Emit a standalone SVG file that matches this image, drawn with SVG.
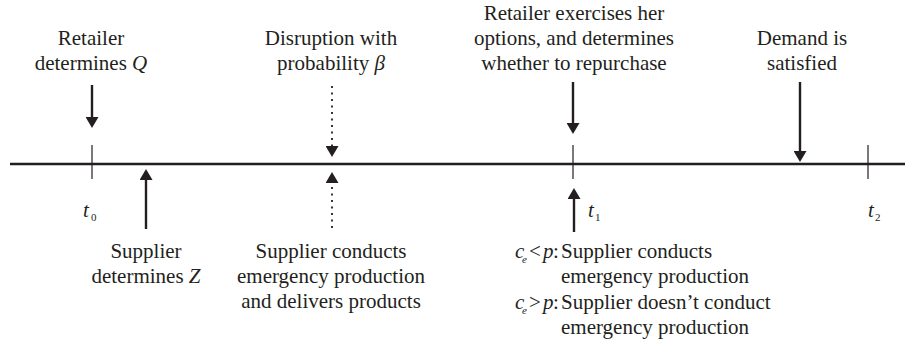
<svg xmlns="http://www.w3.org/2000/svg" width="905" height="347" viewBox="0 0 905 347">
<defs>
<marker id="ah" viewBox="0 0 12 13" refX="1" refY="6.5" markerWidth="12" markerHeight="13" markerUnits="userSpaceOnUse" orient="auto">
<path d="M0,0 L11,6.5 L0,13 z" fill="#231f20"/>
</marker>
</defs>
<rect width="905" height="347" fill="#ffffff"/>
<g id="timeline">
<line x1="10" y1="164" x2="905" y2="164" stroke="#231f20" stroke-width="2.5"/>
<line x1="92" y1="145" x2="92" y2="179" stroke="#231f20" stroke-width="1.2"/>
<line x1="573" y1="145" x2="573" y2="179" stroke="#231f20" stroke-width="1.2"/>
<line x1="868" y1="145" x2="868" y2="179" stroke="#231f20" stroke-width="1.2"/>
</g>
<g id="connectors">
<line x1="92" y1="85" x2="92" y2="118" stroke="#231f20" stroke-width="2.4" marker-end="url(#ah)"/>
<line x1="146" y1="229" x2="146" y2="179" stroke="#231f20" stroke-width="2.4" marker-end="url(#ah)"/>
<line x1="332" y1="86" x2="332" y2="147" stroke="#231f20" stroke-width="1.8" stroke-dasharray="2 4.5" marker-end="url(#ah)"/>
<line x1="332" y1="228" x2="332" y2="182" stroke="#231f20" stroke-width="1.8" stroke-dasharray="2 4.5" marker-end="url(#ah)"/>
<line x1="573" y1="82" x2="573" y2="124" stroke="#231f20" stroke-width="2.4" marker-end="url(#ah)"/>
<line x1="800" y1="82" x2="800" y2="152" stroke="#231f20" stroke-width="2.4" marker-end="url(#ah)"/>
<line x1="574" y1="232" x2="574" y2="198" stroke="#231f20" stroke-width="2.4" marker-end="url(#ah)"/>
</g>
<g id="t0"><text font-family="Times New Roman" font-size="21" fill="#231f20" x="83" y="217"><tspan font-style="italic">t</tspan><tspan font-size="11" x="91" y="221">0</tspan></text></g>
<g id="t1"><text font-family="Times New Roman" font-size="21" fill="#231f20" x="588" y="217"><tspan font-style="italic">t</tspan><tspan font-size="11" x="595" y="221">1</tspan></text></g>
<g id="t2"><text font-family="Times New Roman" font-size="21" fill="#231f20" x="868" y="217"><tspan font-style="italic">t</tspan><tspan font-size="11" x="875" y="221">2</tspan></text></g>
<g id="retailer-q">
<text font-family="Times New Roman" font-size="21" fill="#231f20" text-anchor="middle" x="91" y="45">Retailer</text>
<text font-family="Times New Roman" font-size="21" fill="#231f20" text-anchor="middle" x="91" y="70">determines <tspan font-style="italic">Q</tspan></text>
</g>
<g id="disruption">
<text font-family="Times New Roman" font-size="21" fill="#231f20" text-anchor="middle" x="331" y="45">Disruption with</text>
<text font-family="Times New Roman" font-size="21" fill="#231f20" text-anchor="middle" x="331" y="70">probability <tspan font-style="italic">β</tspan></text>
</g>
<g id="retailer-options">
<text font-family="Times New Roman" font-size="21" fill="#231f20" text-anchor="middle" x="574" y="20">Retailer exercises her</text>
<text font-family="Times New Roman" font-size="21" fill="#231f20" text-anchor="middle" x="574" y="45">options, and determines</text>
<text font-family="Times New Roman" font-size="21" fill="#231f20" text-anchor="middle" x="574" y="70">whether to repurchase</text>
</g>
<g id="demand">
<text font-family="Times New Roman" font-size="21" fill="#231f20" text-anchor="middle" x="802" y="45">Demand is</text>
<text font-family="Times New Roman" font-size="21" fill="#231f20" text-anchor="middle" x="802" y="70">satisfied</text>
</g>
<g id="supplier-z">
<text font-family="Times New Roman" font-size="21" fill="#231f20" text-anchor="middle" x="146" y="258">Supplier</text>
<text font-family="Times New Roman" font-size="21" fill="#231f20" text-anchor="middle" x="146" y="283">determines <tspan font-style="italic">Z</tspan></text>
</g>
<g id="supplier-emergency">
<text font-family="Times New Roman" font-size="21" fill="#231f20" text-anchor="middle" x="331" y="258">Supplier conducts</text>
<text font-family="Times New Roman" font-size="21" fill="#231f20" text-anchor="middle" x="331" y="283">emergency production</text>
<text font-family="Times New Roman" font-size="21" fill="#231f20" text-anchor="middle" x="331" y="308">and delivers products</text>
</g>
<g id="conditions">
<text font-family="Times New Roman" font-size="21" fill="#231f20" x="515" y="258"><tspan font-style="italic">c</tspan><tspan font-size="11" font-style="italic" x="522" y="263">e</tspan><tspan x="529" y="258">&lt;</tspan><tspan font-style="italic" x="543">p</tspan><tspan x="553">:</tspan></text>
<text font-family="Times New Roman" font-size="21" fill="#231f20" x="561" y="258">Supplier conducts</text>
<text font-family="Times New Roman" font-size="21" fill="#231f20" x="561" y="283">emergency production</text>
<text font-family="Times New Roman" font-size="21" fill="#231f20" x="515" y="309"><tspan font-style="italic">c</tspan><tspan font-size="11" font-style="italic" x="522" y="314">e</tspan><tspan x="529" y="309">&gt;</tspan><tspan font-style="italic" x="543">p</tspan><tspan x="553">:</tspan></text>
<text font-family="Times New Roman" font-size="21" fill="#231f20" x="561" y="309">Supplier doesn’t conduct</text>
<text font-family="Times New Roman" font-size="21" fill="#231f20" x="561" y="334">emergency production</text>
</g>
</svg>
